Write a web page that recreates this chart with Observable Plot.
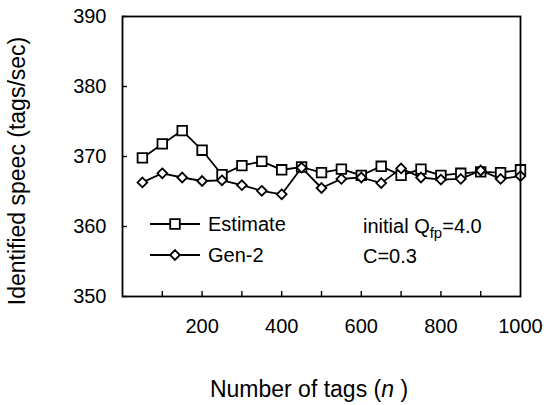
<!DOCTYPE html>
<html><head><meta charset="utf-8">
<script src="https://cdn.jsdelivr.net/npm/d3@7"></script>
<script src="https://cdn.jsdelivr.net/npm/@observablehq/plot@0.6"></script>
<style>body{margin:0;background:#fff;} #chart{width:544px;height:405px;}</style>
</head><body><div id="chart"></div>
<script>
// ---- data ----
const tagCounts = [50,100,150,200,250,300,350,400,450,500,550,600,650,700,750,800,850,900,950,1000];
const estimate  = [369.8,371.8,373.7,370.9,367.4,368.7,369.3,368.1,368.5,367.7,368.2,367.3,368.6,367.3,368.2,367.3,367.6,367.8,367.7,368.1];
const gen2      = [366.3,367.6,367.0,366.5,366.6,365.9,365.1,364.6,368.4,365.5,366.8,367.0,366.2,368.3,367.0,366.7,366.8,368.0,366.8,367.2];
const seriesNames = ["Estimate", "Gen-2"];
const yTicks = [350,360,370,380,390];
const xMinorTicks = [100,200,300,400,500,600,700,800,900];
const xLabelTicks = [200,400,600,800,1000];
const xTitle = ["Number of tags (", "n", " )"];
const yTitle = "Identified speec (tags/sec)";
const annotation1 = ["initial Q", "fp", "=4.0"];
const annotation2 = "C=0.3";

const estRows = tagCounts.map((n, i) => ({n, v: estimate[i], s: seriesNames[0]}));
const genRows = tagCounts.map((n, i) => ({n, v: gen2[i], s: seriesNames[1]}));

const font = "'Liberation Sans', Arial, sans-serif";
const sqR = 5.4, diR = 4.4;
const lw = 1.8;

const plot = Plot.plot({
  width: 544, height: 405,
  marginTop: 16, marginLeft: 122, marginRight: 24, marginBottom: 109,
  style: {fontFamily: font, fontSize: "20px", background: "white", color: "black", overflow: "visible"},
  x: {domain: [0, 1000]},
  y: {domain: [350, 390]},
  marks: [
    Plot.axisY(yTicks, {tickSize: -5, tickPadding: 21, fontSize: 20, label: null, strokeWidth: 1.4}),
    Plot.axisX(xMinorTicks, {tickSize: -5, tickFormat: () => "", label: null, strokeWidth: 1.4}),
    Plot.axisX(xLabelTicks, {tickSize: 0, tickPadding: 22, fontSize: 20, label: null, tickFormat: d => String(d)}),
    Plot.line(estRows, {x: "n", y: "v", stroke: "black", strokeWidth: lw}),
    Plot.line(genRows, {x: "n", y: "v", stroke: "black", strokeWidth: lw}),
    Plot.dot(estRows, {x: "n", y: "v", symbol: "square", r: sqR, fill: "white", stroke: "black", strokeWidth: lw}),
    Plot.dot(genRows, {x: "n", y: "v", symbol: "diamond2", r: diR, fill: "white", stroke: "black", strokeWidth: lw}),
    Plot.frame({stroke: "black", strokeWidth: 1.8})
  ]
});
document.getElementById("chart").appendChild(plot);

// ---- overlay: legend, annotation, axis titles ----
const svg = d3.select(plot);
const g = svg.append("g").attr("font-family", font).attr("fill", "black").attr("text-anchor", "start");
const symbols = [d3.symbolSquare, d3.symbolDiamond2];
const radii = [sqR, diR];
seriesNames.forEach((name, i) => {
  const y = 224 + i * 31;
  g.append("line").attr("x1", 150).attr("x2", 200).attr("y1", y).attr("y2", y)
    .attr("stroke", "black").attr("stroke-width", lw);
  g.append("path").attr("d", d3.symbol(symbols[i], radii[i] * radii[i] * Math.PI)())
    .attr("transform", `translate(175,${y})`)
    .attr("fill", "white").attr("stroke", "black").attr("stroke-width", lw);
  g.append("text").attr("x", 208).attr("y", y + 7).attr("font-size", 20).attr("text-anchor", "start").text(name);
});

const a1 = g.append("text").attr("x", 363).attr("y", 233).attr("font-size", 20).attr("text-anchor", "start");
a1.append("tspan").text(annotation1[0]);
a1.append("tspan").attr("font-size", 15).attr("dy", 5).text(annotation1[1]);
a1.append("tspan").attr("dy", -5).text(annotation1[2]);
g.append("text").attr("x", 363).attr("y", 263).attr("font-size", 20).attr("text-anchor", "start").text(annotation2);

const xt = g.append("text").attr("x", 309).attr("y", 397).attr("font-size", 23).attr("text-anchor", "middle");
xt.append("tspan").text(xTitle[0]);
xt.append("tspan").attr("font-style", "italic").text(xTitle[1]);
xt.append("tspan").text(xTitle[2]);

g.append("text").attr("transform", "translate(25,171) rotate(-90)")
  .attr("font-size", 23).attr("text-anchor", "middle").text(yTitle);
</script>
</body></html>
